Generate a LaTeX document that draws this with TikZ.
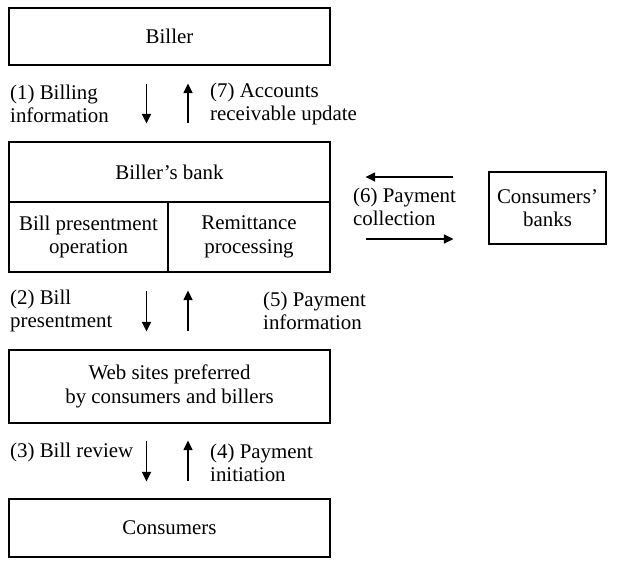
\documentclass[tikz,border=0pt]{standalone}
\usepackage{fontspec}
\setmainfont{Liberation Serif}
\usetikzlibrary{arrows.meta}

\begin{document}
\begin{tikzpicture}[line cap=butt,line join=miter,>={Triangle[length=9.5pt,width=9pt]},x=1pt,y=-1pt,
    box/.style={draw,line width=1.1pt,inner sep=0pt,align=center},
    lbl/.style={inner sep=0pt,anchor=west,align=left},
    flow/.style={->,line width=1.1pt}]
      \useasboundingbox (0,0) rectangle (618,579);
      \fontsize{20.9}{23.5}\selectfont
      % boxes
      \node[box,minimum width=321pt,minimum height=57pt] (biller) at (169.5,36.5) {Biller};
      \node[box,minimum width=321pt,minimum height=60pt] (bank) at (169.5,172) {Biller's bank};
      \node[box,minimum width=159pt,minimum height=70pt] (present) at (88.5,237) {Bill presentment\\operation};
      \node[box,minimum width=162pt,minimum height=70pt] (remit) at (249,237) {Remittance\\processing};
      \node[box,minimum width=117pt,minimum height=72pt] (cbanks) at (547.5,208) {Consumers'\\banks};
      \node[box,minimum width=321pt,minimum height=73pt] (web) at (169.5,386.5) {Web sites preferred\\by consumers and billers};
      \node[box,minimum width=321pt,minimum height=58pt] (consumers) at (169.5,528) {Consumers};
      % labels
      \node[lbl] (l1) at (10,104) {(1) Billing\\information};
      \node[lbl] (l7) at (210,104) {(7) Accounts\\receivable update};
      \node[lbl] (l6) at (353,207) {(6) Payment\\collection};
      \node[lbl] (l2) at (10,311) {(2) Bill\\presentment};
      \node[lbl] (l5) at (263,311) {(5) Payment\\information};
      \node[lbl] (l3) at (10,452) {(3) Bill review};
      \node[lbl] (l4) at (210,463) {(4) Payment\\initiation};
      % arrows
      \coordinate (dn) at (146.5,0);
      \coordinate (up) at (188,0);
      \coordinate (lft) at (0,177);
      \coordinate (rgt) at (0,239);
      \draw[flow,shorten <=18pt,shorten >=18pt] (biller.south -| dn) -- (bank.north -| dn);
      \draw[flow,shorten <=18pt,shorten >=18pt] (bank.north -| up) -- (biller.south -| up);
      \draw[flow,shorten <=18pt,shorten >=18pt] (present.south -| dn) -- (web.north -| dn);
      \draw[flow,shorten <=18pt,shorten >=18pt] (web.north -| up) -- (remit.south -| up);
      \draw[flow,shorten <=17pt,shorten >=17pt] (web.south -| dn) -- (consumers.north -| dn);
      \draw[flow,shorten <=17pt,shorten >=17pt] (consumers.north -| up) -- (web.south -| up);
      \draw[flow,shorten <=35pt,shorten >=35pt] (cbanks.west |- lft) -- (bank.east |- lft);
      \draw[flow,shorten <=35pt,shorten >=35pt] (remit.east |- rgt) -- (cbanks.west |- rgt);
\end{tikzpicture}
\end{document}
